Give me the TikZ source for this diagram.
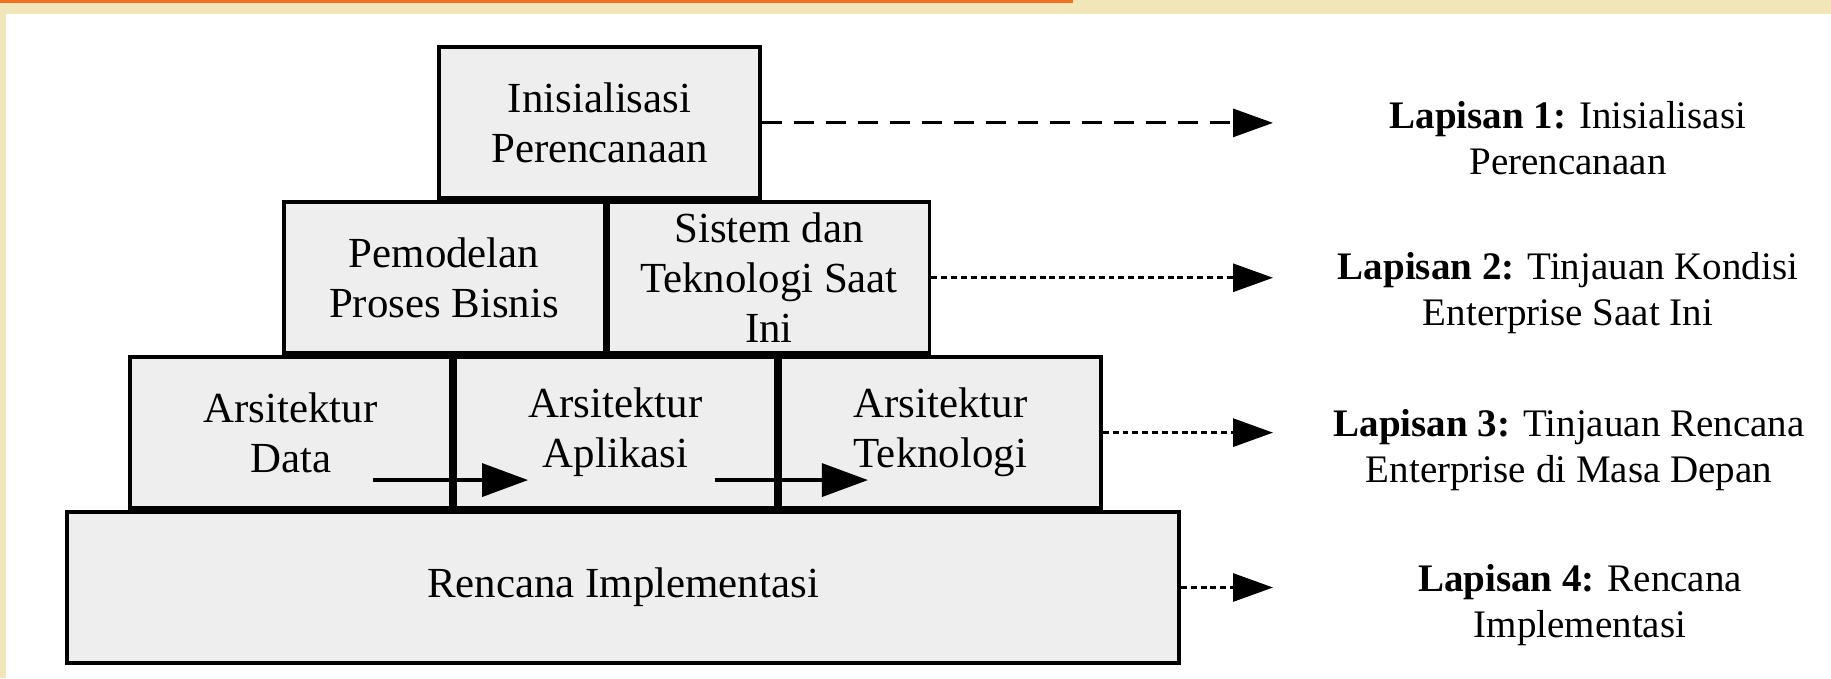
\documentclass[tikz,border=0pt]{standalone}
\usepackage{fontspec}
\setmainfont{Liberation Serif}
\usepackage{xcolor}
\usepackage{tikz}
\usetikzlibrary{arrows.meta}
\usetikzlibrary{calc,positioning}
\definecolor{beige1}{RGB}{240,230,184}
\definecolor{orange1}{RGB}{242,112,33}
\definecolor{fill1}{RGB}{238,238,238}
\tikzset{%
  >={Triangle[width=2.8mm,length=4mm]},
  % Specifications for style of nodes:
  base/.style = {rectangle, draw=black, line width=1.1pt, fill=fill1,
    minimum width=3.21cm,
    minimum height=1.51cm, inner sep=1pt,
    align=center, font=\fontsize{12.2}{14.2}\selectfont},
  wide/.style = {base, minimum width=11.12cm},
  lapisan/.style = {align=center, font=\fontsize{11.1}{13.1}\selectfont},
  % Specifications for style of arrows:
  flow/.style = {line width=1pt, -{Triangle[width=3.3mm,length=4.6mm]}},
  longDash/.style = {->, line width=0.85pt, dash pattern=on 5.7pt off 3.4pt},
  shortDash/.style = {->, line width=0.85pt, dash pattern=on 1.7pt off 1.1pt},
}

\begin{document}
\begin{tikzpicture}
    \useasboundingbox (0,0) rectangle (18.31,6.78);
    % page frame
    \fill[beige1] (0,0) rectangle (18.31,6.78);
    \fill[white] (0.06,0) rectangle (18.31,6.64);
    \fill[orange1] (0,6.75) rectangle (10.73,6.78);
    % Specification of nodes (position, etc.)
    \node(Impl)[wide] at (6.23,0.905) {Rencana Implementasi};
    \node(App)[base,above=0pt of Impl,xshift=-0.075cm]{Arsitektur \\ Aplikasi};
    \node(Data)[base,left=0pt of App]{Arsitektur \\ Data};
    \node(Tek)[base,right=0pt of App]{Arsitektur \\ Teknologi};
    \node(Pem)[base,above left=0pt and 0pt of App.north,xshift=-0.09cm]{Pemodelan \\ Proses Bisnis};
    \node(Sis)[base,right=0pt of Pem]{Sistem dan \\ Teknologi Saat \\ Ini};
    \node(Init)[base,above=0pt of Pem.north east,xshift=-0.07cm]{Inisialisasi \\ Perencanaan};
    % labels of the layers
    \coordinate(tipx) at (12.73,0);
    \node(Lap1)[lapisan] at (15.68,5.40){\textbf{Lapisan 1:} Inisialisasi \\ Perencanaan};
    \node(Lap2)[lapisan] at (15.68,3.85){\textbf{Lapisan 2:} Tinjauan Kondisi \\ Enterprise Saat Ini};
    \node(Lap3)[lapisan] at (15.69,2.28){\textbf{Lapisan 3:} Tinjauan Rencana \\ Enterprise di Masa Depan};
    \node(Lap4)[lapisan] at (15.80,0.73){\textbf{Lapisan 4:} Rencana \\ Implementasi};
    \draw[flow]([xshift=-0.80cm,yshift=0.30cm]Data.south east) -- ([xshift=0.75cm,yshift=0.30cm]App.south west);
    \draw[flow]([xshift=-0.63cm,yshift=0.30cm]App.south east) -- ([xshift=0.90cm,yshift=0.30cm]Tek.south west);
    \draw[longDash](Init) -- (Init -| tipx);
    \draw[shortDash](Sis) -- (Sis -| tipx);
    \draw[shortDash](Tek) -- (Tek -| tipx);
    \draw[shortDash](Impl) -- (Impl -| tipx);
\end{tikzpicture}
\end{document}
